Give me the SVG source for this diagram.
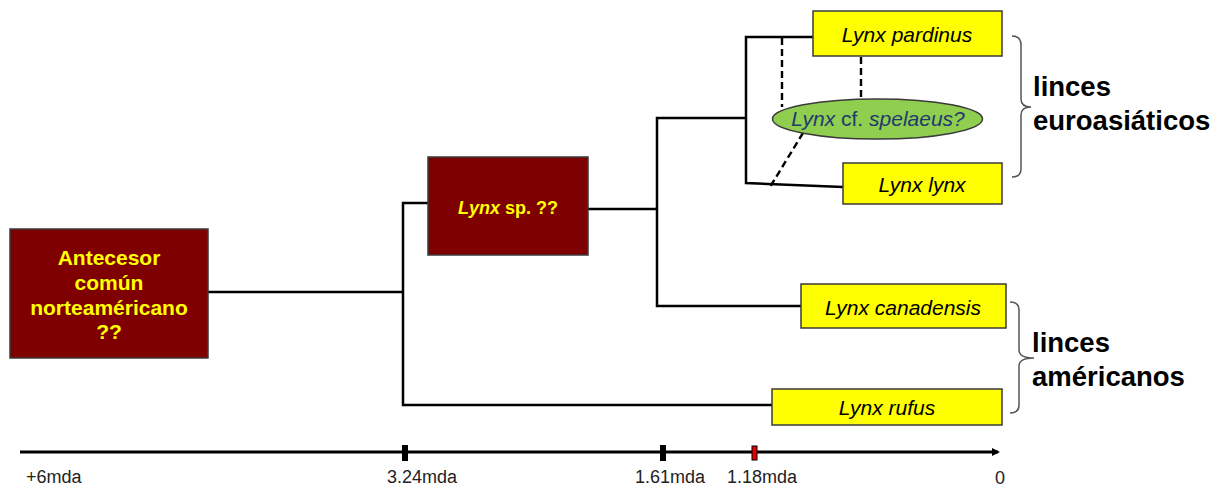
<svg xmlns="http://www.w3.org/2000/svg" width="1222" height="488" viewBox="0 0 1222 488">
<style>
.dark{fill:#7f0000;stroke:#3a3a3a;stroke-width:1.5}
.yel{fill:#ffff00;stroke:#3a3a3a;stroke-width:1.5}
.dt{font-family:"Liberation Sans",Arial,sans-serif;font-weight:bold;fill:#ffff00;text-anchor:middle}
.yt{font-family:"Liberation Sans",Arial,sans-serif;font-style:italic;font-size:21px;fill:#000;text-anchor:middle}
.br{fill:none;stroke:#555;stroke-width:1.5}
.grp{font-family:"Liberation Sans",Arial,sans-serif;font-weight:bold;font-size:27.5px;fill:#000}
.tl{font-family:"Liberation Sans",Arial,sans-serif;font-size:18px;fill:#222}
.ln{fill:none;stroke:#000;stroke-width:2.5}
.ds{fill:none;stroke:#000;stroke-width:2.4;stroke-dasharray:7,4}
</style>
<defs>
<marker id="arr" markerWidth="8" markerHeight="8" refX="6" refY="4" orient="auto" markerUnits="userSpaceOnUse" viewBox="0 0 8 8">
<path d="M0,0 L8,4 L0,8 Z" fill="#000"/>
</marker>
</defs>
<g id="connectors">
<path class="ln" d="M208,292 L403,292"/>
<path class="ln" d="M428,203 L403,203 L403,405 L772,405"/>
<path class="ln" d="M588,209 L657,209"/>
<path class="ln" d="M746,118 L657,118 L657,306 L801,306"/>
<path class="ln" d="M813,37 L746,37 L746,183 L843,187"/>
<path class="ds" d="M782,38 L782,107"/>
<path class="ds" d="M861,57 L861,99"/>
<path class="ds" d="M803,133 L770,187"/>
</g>
<g id="antecesor">
<rect class="dark" x="10" y="229" width="198" height="129"/>
<text class="dt" font-size="21" x="109" y="265">Antecesor</text>
<text class="dt" font-size="21" x="109" y="290">común</text>
<text class="dt" font-size="21" x="109" y="315">norteaméricano</text>
<text class="dt" font-size="21" x="109" y="339">??</text>
</g>
<g id="lynx-sp">
<rect class="dark" x="428" y="157" width="160" height="98"/>
<text class="dt" font-size="18" x="508" y="214"><tspan font-style="italic">Lynx</tspan> sp. ??</text>
</g>
<g id="pardinus">
<rect class="yel" x="813" y="11" width="189" height="45"/>
<text class="yt" x="907" y="42">Lynx pardinus</text>
</g>
<g id="spelaeus">
<ellipse cx="877.5" cy="119" rx="105" ry="20" fill="#8fce4f" stroke="#3a3a3a" stroke-width="1.5"/>
<text class="yt" x="878" y="126" style="fill:#1f3a6e">Lynx <tspan font-style="normal">cf.</tspan> spelaeus?</text>
</g>
<g id="lynx">
<rect class="yel" x="843" y="163" width="159" height="41"/>
<text class="yt" x="922" y="192">Lynx lynx</text>
</g>
<g id="canadensis">
<rect class="yel" x="801" y="284" width="205" height="44"/>
<text class="yt" x="903" y="315">Lynx canadensis</text>
</g>
<g id="rufus">
<rect class="yel" x="772" y="389" width="230" height="36"/>
<text class="yt" x="887" y="415">Lynx rufus</text>
</g>
<g id="euroasiaticos">
<path class="br" d="M1012,36 Q1021,36 1021,45 L1021,99 Q1021,107 1031,107 Q1021,107 1021,115 L1021,169 Q1021,177 1012,177"/>
<text class="grp" x="1033" y="96">linces</text>
<text class="grp" x="1033" y="130">euroasiáticos</text>
</g>
<g id="americanos">
<path class="br" d="M1010,302 Q1019,302 1019,310 L1019,350 Q1019,358 1034,358 Q1019,358 1019,366 L1019,405 Q1019,413 1010,413"/>
<text class="grp" x="1032" y="352">linces</text>
<text class="grp" x="1032" y="386">américanos</text>
</g>
<g id="timeline">
<path d="M20,452 L998,452" stroke="#000" stroke-width="3" fill="none" marker-end="url(#arr)"/>
<rect x="402" y="445" width="6" height="16" fill="#000"/>
<rect x="660" y="445" width="6" height="16" fill="#000"/>
<rect x="752" y="446" width="5" height="14" fill="#e00000" stroke="#000" stroke-width="1"/>
<text class="tl" x="26" y="483">+6mda</text>
<text class="tl" x="387" y="483">3.24mda</text>
<text class="tl" x="635" y="483">1.61mda</text>
<text class="tl" x="727" y="483">1.18mda</text>
<text class="tl" x="995" y="484">0</text>
</g>
</svg>
